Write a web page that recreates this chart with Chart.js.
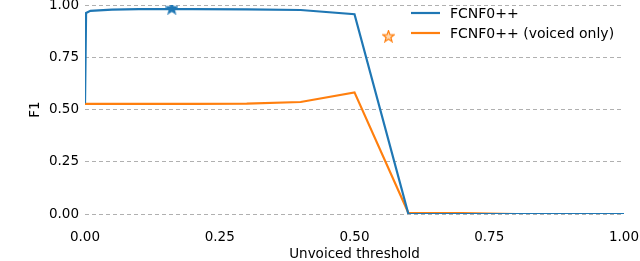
<!DOCTYPE html>
<html>
<head>
<meta charset="utf-8">
<script src="https://cdn.jsdelivr.net/npm/chart.js@4"></script>
<style>
    html, body { margin: 0; padding: 0; background: #fff; }
    #wrap { width: 640px; height: 261px; }
</style>
</head>
<body>
<div id="wrap"><canvas id="f1Chart"></canvas></div>
<script>
// Unvoiced threshold values
const thresholds = [0, 0.002, 0.01, 0.05, 0.1, 0.2, 0.3, 0.4, 0.5, 0.6, 0.7, 0.8, 0.9, 1.0];
// F1 scores
const f1All = [0.53, 0.962, 0.972, 0.978, 0.98, 0.98, 0.979, 0.976, 0.956, 0, 0, 0, 0, 0];
const f1Voiced = [0.527, 0.527, 0.527, 0.527, 0.527, 0.527, 0.528, 0.536, 0.582, 0.005, 0.004, 0, 0, 0];
// Best thresholds (star markers)
const bestAll = [0.161, 0.985];
const bestVoiced = [0.563, 0.851];
const seriesLabels = ['FCNF0++', 'FCNF0++ (voiced only)'];
const axisTicks = [0, 0.25, 0.5, 0.75, 1.0];

const BLUE = '#1f77b4';
const ORANGE = '#ff7f0e';
const FONT = { family: 'DejaVu Sans', size: 13.5 };

function starImage(color, fill) {
    const c = document.createElement('canvas');
    c.width = 13; c.height = 13;
    const g = c.getContext('2d');
    g.beginPath();
    for (let i = 0; i < 10; i++) {
        const r = i % 2 === 0 ? 6 : 2.5;
        const a = -Math.PI / 2 + i * Math.PI / 5;
        const px = 6.5 + r * Math.cos(a), py = 6.9 + r * Math.sin(a);
        i === 0 ? g.moveTo(px, py) : g.lineTo(px, py);
    }
    g.closePath();
    g.fillStyle = fill;
    g.fill();
    g.strokeStyle = color;
    g.lineWidth = 1.2;
    g.stroke();
    return c;
}

const toPoints = (xs, ys) => xs.map((x, i) => ({ x: x, y: ys[i] }));

// Legend drawn inside the plot area, matplotlib style
const innerLegend = {
    id: 'innerLegend',
    afterDraw(chart) {
        const ctx = chart.ctx;
        ctx.save();
        ctx.font = '14px "DejaVu Sans"';
        ctx.textBaseline = 'middle';
        ctx.fillStyle = '#000';
        [0, 1].forEach(i => {
            const ds = chart.data.datasets[i];
            const y = 13 + i * 20;
            ctx.strokeStyle = ds.borderColor;
            ctx.lineWidth = 2.2;
            ctx.beginPath();
            ctx.moveTo(411, y);
            ctx.lineTo(440, y);
            ctx.stroke();
            ctx.fillText(ds.label, 450, y + 1);
        });
        ctx.restore();
    }
};

new Chart(document.getElementById('f1Chart').getContext('2d'), {
    type: 'scatter',
    data: {
        datasets: [
            {
                label: seriesLabels[0],
                data: toPoints(thresholds, f1All),
                showLine: true,
                borderColor: BLUE,
                borderWidth: 2.2,
                pointRadius: 0,
                tension: 0
            },
            {
                label: seriesLabels[1],
                data: toPoints(thresholds, f1Voiced),
                showLine: true,
                borderColor: ORANGE,
                borderWidth: 2.2,
                pointRadius: 0,
                tension: 0
            },
            {
                label: 'best',
                data: [{ x: bestAll[0], y: bestAll[1] }],
                pointStyle: starImage(BLUE, BLUE),
                borderColor: BLUE
            },
            {
                label: 'best voiced',
                data: [{ x: bestVoiced[0], y: bestVoiced[1] }],
                pointStyle: starImage(ORANGE, '#ffd9b0'),
                borderColor: ORANGE
            }
        ]
    },
    options: {
        responsive: true,
        maintainAspectRatio: false,
        animation: false,
        layout: { padding: { top: 5, right: 16, left: 0, bottom: 0 } },
        scales: {
            x: {
                type: 'linear',
                min: 0,
                max: 1,
                afterFit: s => { s.height = 47; s.paddingLeft = 0; s.paddingRight = 0; },
                afterBuildTicks: s => { s.ticks = axisTicks.map(v => ({ value: v })); },
                grid: { display: false, drawTicks: false },
                border: { display: false },
                ticks: {
                    color: '#000',
                    padding: 15,
                    maxRotation: 0,
                    font: FONT,
                    callback: v => v.toFixed(2)
                },
                title: {
                    display: true,
                    text: 'Unvoiced threshold',
                    color: '#000',
                    font: FONT,
                    padding: { top: 0, bottom: -2 }
                }
            },
            y: {
                min: 0,
                max: 1,
                afterFit: s => { s.width = 85; s.paddingTop = 0; s.paddingBottom = 0; },
                afterBuildTicks: s => { s.ticks = axisTicks.map(v => ({ value: v })); },
                grid: {
                    color: '#b0b0b0',
                    lineWidth: 1,
                    drawTicks: false
                },
                border: { display: false, dash: [4, 3] },
                ticks: {
                    color: '#000',
                    padding: 6,
                    font: FONT,
                    callback: v => v.toFixed(2)
                },
                title: {
                    display: true,
                    text: 'F1',
                    color: '#000',
                    font: FONT,
                    padding: { top: 27, bottom: 0 }
                }
            }
        },
        plugins: {
            legend: { display: false },
            tooltip: { enabled: false }
        }
    },
    plugins: [innerLegend]
});
</script>
</body>
</html>
